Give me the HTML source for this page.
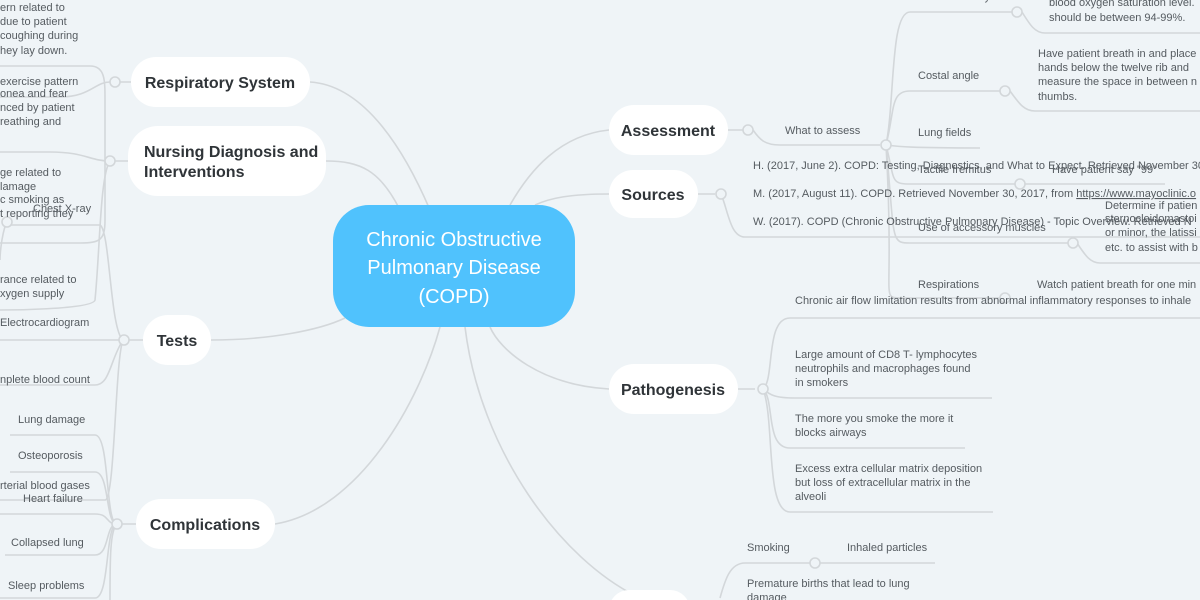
<!DOCTYPE html>
<html><head><meta charset="utf-8"><style>
html,body{margin:0;padding:0;background:#eff4f7;}
svg{display:block;font-family:"Liberation Sans",sans-serif;}
.t{font-size:11px;fill:#555b60;}
.b{font-size:16px;font-weight:bold;fill:#2f3438;}
.l{fill:none;stroke:#d3d7da;stroke-width:1.6;}
.c{fill:#eff4f7;stroke:#d3d7da;stroke-width:1.6;}
</style></head><body>
<svg width="1200" height="600" viewBox="0 0 1200 600">
<path class="l" d="M310 82 C360 85 400 140 430 210"/>
<path class="l" d="M326 161 C360 161 380 170 400 210"/>
<path class="l" d="M211 340 C270 340 320 330 345 318"/>
<path class="l" d="M275 524 C360 510 420 400 440 327"/>
<path class="l" d="M609 130 C560 135 530 170 510 205"/>
<path class="l" d="M609 194 C570 194 550 198 535 205"/>
<path class="l" d="M609 389 C540 385 500 350 490 327"/>
<path class="l" d="M640 598 C560 560 480 450 465 327"/>
<path class="l" d="M131 82 H120 M110 82 C95 82 90 97 60 97 H0"/>
<circle class="c" cx="115" cy="82" r="5"/>
<path class="l" d="M0 66 H90 C105 66 105 80 105 100 V220 C105 240 100 243 80 243 H0"/>
<path class="l" d="M128 161 H115 M110 161 C90 161 85 152 50 152 H0 M110 161 C100 175 100 250 95 300 C93 310 0 310 0 310"/>
<circle class="c" cx="110" cy="161" r="5"/>
<path class="l" d="M143 340 H128 M123 340 H0 M123 340 C110 330 110 230 100 225 H10 M123 340 C110 360 110 385 95 385 H0 M123 340 C115 360 115 500 105 500 H0"/>
<path class="l" d="M7 220 C0 240 0 260 0 260"/>
<circle class="c" cx="7" cy="222" r="5"/>
<circle class="c" cx="124" cy="340" r="5"/>
<path class="l" d="M136 524 H122 M117 524 C105 524 110 435 95 435 H10 M117 524 C105 524 110 472 95 472 H10 M117 524 C105 524 110 514 95 514 H0 M117 524 C105 524 110 555 95 555 H5 M117 524 C105 524 110 598 95 598 H0 M117 524 C110 530 110 560 110 600"/>
<circle class="c" cx="117" cy="524" r="5"/>
<path class="l" d="M728 130 H745 M753 130 C760 140 765 145 780 145 H880 M886 145 C895 100 890 12 910 12 H1015 M886 145 C895 110 890 91 910 91 H1005 M886 145 C895 146 900 148 980 148 M886 145 C895 180 890 184 910 184 H1165 M886 145 C895 240 890 243 910 243 H1070 M886 145 C895 300 880 297 900 298 H1000"/>
<circle class="c" cx="748" cy="130" r="5"/>
<circle class="c" cx="886" cy="145" r="5"/>
<path class="l" d="M1022 12 C1030 25 1035 33 1045 33 H1200 M1010 91 C1020 105 1025 111 1035 111 H1200 M1077 243 C1085 255 1090 263 1100 263 H1200"/>
<circle class="c" cx="1017" cy="12" r="5"/><circle class="c" cx="1005" cy="91" r="5"/><circle class="c" cx="1020" cy="184" r="5"/><circle class="c" cx="1073" cy="243" r="5"/><circle class="c" cx="1005" cy="298" r="5"/>
<path class="l" d="M698 194 H715 M721 194 C728 210 730 237 745 237 H1200"/>
<circle class="c" cx="721" cy="194" r="5"/>
<path class="l" d="M738 389 H755 M763 389 C775 380 765 318 790 318 H1200 M763 389 C770 395 775 398 795 398 H992 M763 389 C775 400 765 448 790 448 H965 M763 389 C775 420 765 512 790 512 H993"/>
<circle class="c" cx="763" cy="389" r="5"/>
<path class="l" d="M720 598 C725 580 730 563 745 563 H935"/>
<circle class="c" cx="815" cy="563" r="5"/>
<rect x="333" y="205" width="242" height="122" rx="36" fill="#50c2fd"/>
<g font-size="20" fill="#fff" text-anchor="middle"><text x="454" y="246">Chronic Obstructive</text><text x="454" y="274">Pulmonary Disease</text><text x="454" y="303">(COPD)</text></g>
<g fill="#fff">
<rect x="131" y="57" width="179" height="50" rx="25"/>
<rect x="128" y="126" width="198" height="70" rx="30"/>
<rect x="143" y="315" width="68" height="50" rx="25"/>
<rect x="136" y="499" width="139" height="50" rx="25"/>
<rect x="609" y="105" width="119" height="50" rx="25"/>
<rect x="609" y="170" width="89" height="48" rx="24"/>
<rect x="609" y="364" width="129" height="50" rx="25"/>
<rect x="609" y="590" width="81" height="40" rx="20"/>
</g>
<text class="b" x="220" y="88" text-anchor="middle">Respiratory System</text>
<text class="b" x="144" y="157">Nursing Diagnosis and</text><text class="b" x="144" y="177">Interventions</text>
<text class="b" x="177" y="346" text-anchor="middle">Tests</text>
<text class="b" x="205" y="530" text-anchor="middle">Complications</text>
<text class="b" x="668" y="136" text-anchor="middle">Assessment</text>
<text class="b" x="653" y="200" text-anchor="middle">Sources</text>
<text class="b" x="673" y="395" text-anchor="middle">Pathogenesis</text>
<g class="t">
<text x="0" y="11">ern related to</text><text x="0" y="25">due to patient</text><text x="0" y="39">coughing during</text><text x="0" y="54">hey lay down.</text>
<text x="0" y="85">exercise pattern</text><text x="0" y="97">onea and fear</text><text x="0" y="111">nced by patient</text><text x="0" y="125">reathing and</text>
<text x="0" y="176">ge related to</text><text x="0" y="190">lamage</text><text x="0" y="203">c smoking as</text><text x="0" y="217">t reporting they</text>
<text x="33" y="212">Chest X-ray</text>
<text x="0" y="283">rance related to</text><text x="0" y="297">xygen supply</text>
<text x="0" y="326">Electrocardiogram</text>
<text x="0" y="383">nplete blood count</text>
<text x="18" y="423">Lung damage</text>
<text x="18" y="459">Osteoporosis</text>
<text x="0" y="489">rterial blood gases</text>
<text x="23" y="502">Heart failure</text>
<text x="11" y="546">Collapsed lung</text>
<text x="8" y="589">Sleep problems</text>
<text x="918" y="0">Pulse oximetry</text>
<text x="1049" y="6">blood oxygen saturation level.</text><text x="1049" y="21">should be between 94-99%.</text>
<text x="918" y="79">Costal angle</text>
<text x="1038" y="57">Have patient breath in and place</text><text x="1038" y="71">hands below the twelve rib and</text><text x="1038" y="85">measure the space in between n</text><text x="1038" y="100">thumbs.</text>
<text x="785" y="134">What to assess</text>
<text x="918" y="136">Lung fields</text>
<text x="918" y="173">Tactile fremitus</text>
<text x="1052" y="173">Have patient say "99"</text>
<text x="753" y="169">H. (2017, June 2). COPD: Testing, Diagnostics, and What to Expect. Retrieved November 30</text>
<text x="753" y="197">M. (2017, August 11). COPD. Retrieved November 30, 2017, from <tspan text-decoration="underline">https://www.mayoclinic.o</tspan></text>
<text x="753" y="225">W. (2017). COPD (Chronic Obstructive Pulmonary Disease) - Topic Overview. Retrieved N</text>
<text x="918" y="231">Use of accessory muscles</text>
<text x="1105" y="209">Determine if patien</text><text x="1105" y="222">sternocleidomastoi</text><text x="1105" y="236">or minor, the latissi</text><text x="1105" y="251">etc. to assist with b</text>
<text x="918" y="288">Respirations</text>
<text x="1037" y="288">Watch patient breath for one min</text>
<text x="795" y="304">Chronic air flow limitation results from abnormal inflammatory responses to inhale</text>
<text x="795" y="358">Large amount of CD8 T- lymphocytes</text><text x="795" y="372">neutrophils and macrophages found</text><text x="795" y="386">in smokers</text>
<text x="795" y="422">The more you smoke the more it</text><text x="795" y="436">blocks airways</text>
<text x="795" y="472">Excess extra cellular matrix deposition</text><text x="795" y="486">but loss of extracellular matrix in the</text><text x="795" y="500">alveoli</text>
<text x="747" y="551">Smoking</text><text x="847" y="551">Inhaled particles</text>
<text x="747" y="587">Premature births that lead to lung</text><text x="747" y="601">damage</text>
</g>
</svg>
</body></html>
